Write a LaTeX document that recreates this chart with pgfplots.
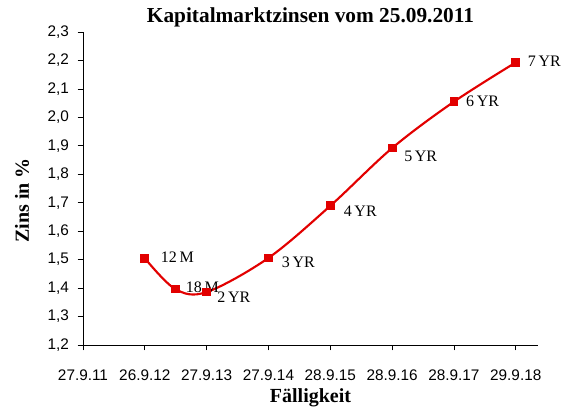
\documentclass[border=0pt]{standalone}
\usepackage{pgfplots}
\pgfplotsset{compat=1.18}
\usepackage{pgfplotstable}
\usepackage{fontspec}
\setmainfont{Liberation Serif}
\newfontfamily\tickfont{Liberation Sans}
\definecolor{linered}{RGB}{226,0,0}
\pgfplotstableread{
x y lab dx dy
1.00 1.505 {12\,M} 8 1
1.49 1.397 {18\,M} 4 1
2.00 1.386 {2\,YR} 4 -4
3.00 1.506 {3\,YR} 6 -3
4.00 1.689 {4\,YR} 6 -4
5.00 1.892 {5\,YR} 5 -6
6.00 2.055 {6\,YR} 5 0
7.00 2.193 {7\,YR} 5 1
}\datatab
\begin{document}
\begin{tikzpicture}[x=0.75pt,y=0.75pt]
\useasboundingbox (-83,-67) rectangle (484,345);
\begin{axis}[
  at={(0,0)}, anchor=origin,
  scale only axis,
  width=341.25pt, height=234.75pt,
  xmin=0, xmax=7.36,
  ymin=1.2, ymax=2.3,
  axis lines=left,
  axis line style={-, black, line width=0.6pt},
  xtick={0,1,2,3,4,5,6,7},
  xticklabels={27.9.11,26.9.12,27.9.13,27.9.14,28.9.15,28.9.16,28.9.17,29.9.18},
  ytick={1.2,1.3,...,2.3},
  y tick label style={xshift=-3pt, /pgf/number format/.cd, fixed, fixed zerofill, precision=1, use comma},
  /pgf/number format/assume math mode=true,
  ticklabel style={font=\tickfont\fontsize{11.5}{13}\selectfont},
  x tick label style={yshift=-11pt},
  tick align=outside,
  major tick length=4pt,
  tick style={black, line width=0.6pt},
  title={\bfseries Kapitalmarktzinsen vom 25.09.2011},
  title style={font=\fontsize{16}{18}\selectfont, yshift=-5.5pt},
  xlabel={\bfseries Fälligkeit},
  ylabel={\bfseries Zins in \%},
  label style={font=\fontsize{15}{17}\selectfont},
  xlabel style={yshift=1pt},
  ylabel style={yshift=7pt, xshift=-9pt},
  clip=false,
]
\addplot[linered, line width=1.6pt, smooth, tension=0.55,
  mark=square*, mark size=2.5pt, mark options={solid, fill=linered, draw=linered},
  point meta=explicit symbolic,
  visualization depends on={\thisrow{dx} \as \dx},
  visualization depends on={\thisrow{dy} \as \dy},
  nodes near coords,
  nodes near coords style={anchor=west, xshift=\dx pt, yshift=\dy pt, font=\fontsize{12}{14}\selectfont, text=black},
] table[x=x, y=y, meta=lab] {\datatab};
\end{axis}
\end{tikzpicture}
\end{document}
